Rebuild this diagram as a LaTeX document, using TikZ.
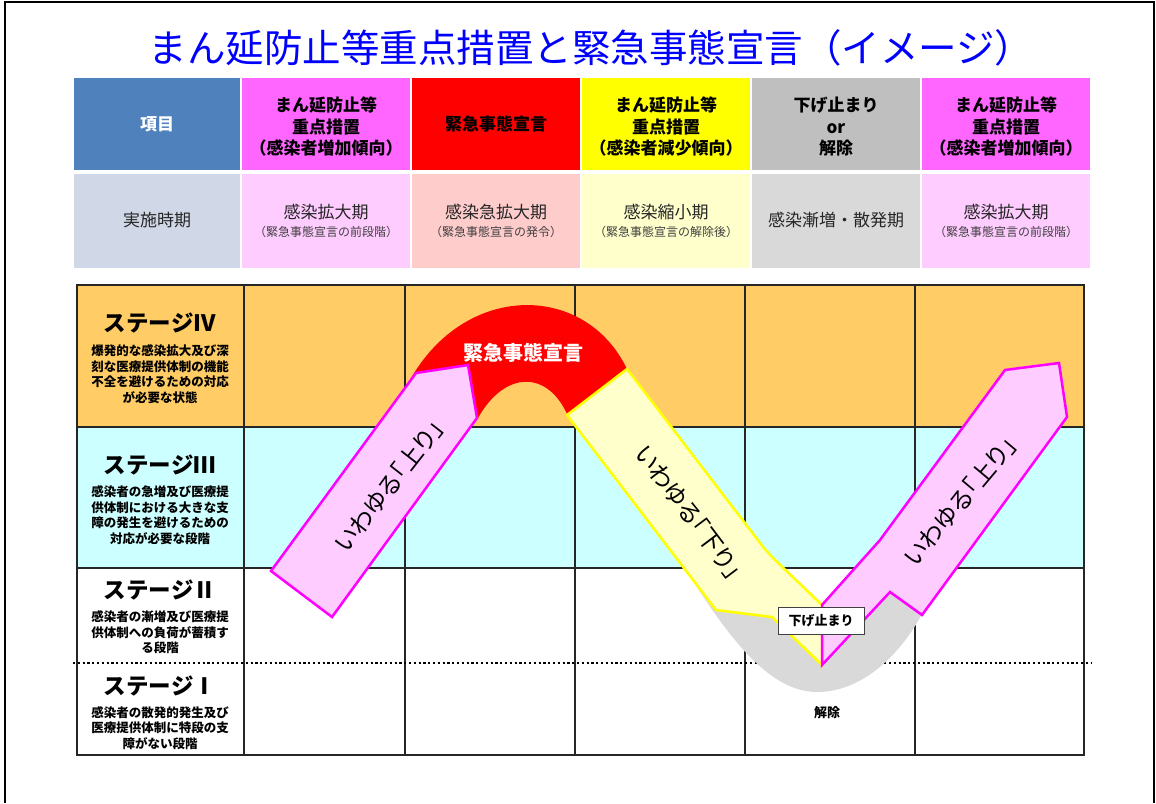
\documentclass[tikz,border=0pt]{standalone}
\usepackage{fontspec}
\setmainfont{Noto Sans CJK JP}
\newfontfamily\paltfont[RawFeature={+palt}]{Noto Sans CJK JP}
\newcommand{\myfs}[2]{\fontsize{#1}{#2}\selectfont}
\definecolor{hblue}{HTML}{4F81BD}
\definecolor{hpink}{HTML}{FF66FF}
\definecolor{hred}{HTML}{FF0000}
\definecolor{hyel}{HTML}{FFFF00}
\definecolor{hgray}{HTML}{BFBFBF}
\definecolor{lblue}{HTML}{D0D8E8}
\definecolor{lpink}{HTML}{FFCCFF}
\definecolor{lsalmon}{HTML}{FFCCCC}
\definecolor{lyel}{HTML}{FFFFCC}
\definecolor{lgray}{HTML}{D9D9D9}
\definecolor{stfour}{HTML}{FFCC66}
\definecolor{stthree}{HTML}{CCFFFF}
\definecolor{mag}{HTML}{FF00FF}
\definecolor{titleblue}{HTML}{0000FF}
\tikzset{
  hcell/.style={rectangle, inner sep=0pt, minimum height=92pt, align=center, font=\bfseries\myfs{17}{21.5}},
  lcell/.style={rectangle, inner sep=0pt, minimum height=94pt},
  ptext/.style={inner sep=0pt, font=\myfs{17}{20}, text=black!85},
  stext/.style={inner sep=0pt, font=\myfs{12}{14}, text=black!75},
  gridl/.style={line width=1.2pt, black!85},
  sttitle/.style={inner sep=0pt, font=\bfseries\myfs{22.5}{24}},
  stdesc/.style={inner sep=0pt, align=center, font=\bfseries\myfs{12.5}{15.5}},
  arrtext/.style={inner sep=0pt, font=\paltfont\myfs{24}{26}},
  pinkarrow/.style={fill=lpink, draw=mag, line width=2.5pt, line join=miter},
  yelarrow/.style={fill=lyel, draw=hyel, line width=2.5pt, line join=miter},
}
\begin{document}
\begin{tikzpicture}[x=1pt,y=-1pt]
\useasboundingbox (0,0) rectangle (1156,803);
% outer frame
\draw[line width=2.5pt] (5,803) -- (5,2) -- (1154,2) -- (1154,803);
% title
\node[inner sep=0pt, font=\myfs{38.5}{40}, text=titleblue] (title) at (591,48) {まん延防止等重点措置と緊急事態宣言（イメージ）};
% header row 1
\node[hcell, fill=hblue, text=white, minimum width=166pt] (h1) at (157,124) {項目};
\node[hcell, fill=hpink, minimum width=168pt] (h2) at (326,124) {};
\node[hcell, fill=hred, minimum width=168pt] (h3) at (496,124) {緊急事態宣言};
\node[hcell, fill=hyel, minimum width=168pt] (h4) at (666,124) {};
\node[hcell, fill=hgray, minimum width=168pt] (h5) at (836,124) {};
\node[hcell, fill=hpink, minimum width=168pt] (h6) at (1006,124) {};
\node[hcell, minimum height=0pt] (h2t) at (326,127) {まん延防止等\\重点措置\\（感染者増加傾向）};
\node[hcell, minimum height=0pt] (h4t) at (666,127) {まん延防止等\\重点措置\\（感染者減少傾向）};
\node[hcell, minimum height=0pt] (h5t) at (836,127) {下げ止まり\\or\\解除};
\node[hcell, minimum height=0pt] (h6t) at (1006,127) {まん延防止等\\重点措置\\（感染者増加傾向）};
% header row 2
\node[lcell, fill=lblue, minimum width=166pt] (r1) at (157,221) {};
\node[lcell, fill=lpink, minimum width=168pt] (r2) at (326,221) {};
\node[lcell, fill=lsalmon, minimum width=168pt] (r3) at (496,221) {};
\node[lcell, fill=lyel, minimum width=168pt] (r4) at (666,221) {};
\node[lcell, fill=lgray, minimum width=168pt] (r5) at (836,221) {};
\node[lcell, fill=lpink, minimum width=168pt] (r6) at (1006,221) {};
\node[ptext] (t1) at (157,220) {実施時期};
\node[ptext] (t2) at (326,212) {感染拡大期};
\node[stext] (s2) at (326,232) {（緊急事態宣言の前段階）};
\node[ptext] (t3) at (496,212) {感染急拡大期};
\node[stext] (s3) at (496,232) {（緊急事態宣言の発令）};
\node[ptext] (t4) at (666,212) {感染縮小期};
\node[stext] (s4) at (666,232) {（緊急事態宣言の解除後）};
\node[ptext] (t5) at (836,220) {感染漸増・散発期};
\node[ptext] (t6) at (1006,212) {感染拡大期};
\node[stext] (s6) at (1006,232) {（緊急事態宣言の前段階）};
% stage table
\fill[stfour] (77,285) rectangle (1084,427);
\fill[stthree] (77,427) rectangle (1084,568);
\draw[gridl] (77,427) -- (1084,427);
\draw[gridl] (77,568) -- (1084,568);
\foreach \cx in {244,405,575,745,915} {\draw[gridl] (\cx,285) -- (\cx,755);}
\draw[gridl, line width=1.5pt] (77,285) rectangle (1084,755);
\draw[line width=2.2pt, dash pattern=on 2.2pt off 2.6pt] (73,663) -- (1092,663);
% stage labels
\node[sttitle] (s4t) at (160,323) {ステージⅣ};
\node[stdesc] (s4d) at (160,374) {爆発的な感染拡大及び深\\刻な医療提供体制の機能\\不全を避けるための対応\\が必要な状態};
\node[sttitle] (s3t) at (160,465) {ステージⅢ};
\node[stdesc] (s3d) at (160,515) {感染者の急増及び医療提\\供体制における大きな支\\障の発生を避けるための\\対応が必要な段階};
\node[sttitle] (s2t) at (160,590) {ステージⅡ};
\node[stdesc] (s2d) at (160,632.5) {感染者の漸増及び医療提\\供体制への負荷が蓄積す\\る段階};
\node[sttitle] (s1t) at (160,686) {ステージⅠ};
\node[stdesc] (s1d) at (160,728) {感染者の散発的発生及び\\医療提供体制に特段の支\\障がない段階};
% red band
\fill[hred] (410,380) .. controls (465,282) and (585,282) .. (627,369) -- (568,416)
  .. controls (548,370) and (505,370) .. (478,418) -- (440,450) -- (405,392) -- cycle;
\node[inner sep=0pt, font=\bfseries\myfs{20}{22}, text=white] (emer) at (523,353) {緊急事態宣言};
% gray band
\fill[lgray] (686,570) .. controls (730,640) and (770,692) .. (817,692)
  .. controls (865,692) and (905,650) .. (926,606) -- (900,585) -- (822,630) -- (740,565) -- cycle;
% arrows
\draw[pinkarrow] (271,571) -- (416,373) -- (468,365) -- (477,418) -- (332,617) -- cycle;
\draw[yelarrow] (567,415) -- (627,369) -- (764,548) -- (773,558) -- (822,605) -- (822,665) -- (772,617) -- (716,610) -- cycle;
\draw[pinkarrow] (822,665) -- (890,592) -- (922,615) -- (1067,417) -- (1059,363) -- (1005,370) -- (880,540) -- (822,605) -- cycle;
\node[arrtext, rotate=52] (up1) at (389,486) {いわゆる「上り」};
\node[arrtext, rotate=-53] (down) at (689,512) {いわゆる「下り」};
\node[arrtext, rotate=50] (up2) at (960,501) {いわゆる「上り」};
% labels
\node[draw=black!75, fill=white, line width=1pt, minimum width=86pt, minimum height=27pt, inner sep=0pt, font=\bfseries\myfs{13}{15}] (stop) at (821,620.5) {下げ止まり};
\node[inner sep=0pt, font=\bfseries\myfs{13}{15}] (lift) at (827,713) {解除};
\end{tikzpicture}
\end{document}
